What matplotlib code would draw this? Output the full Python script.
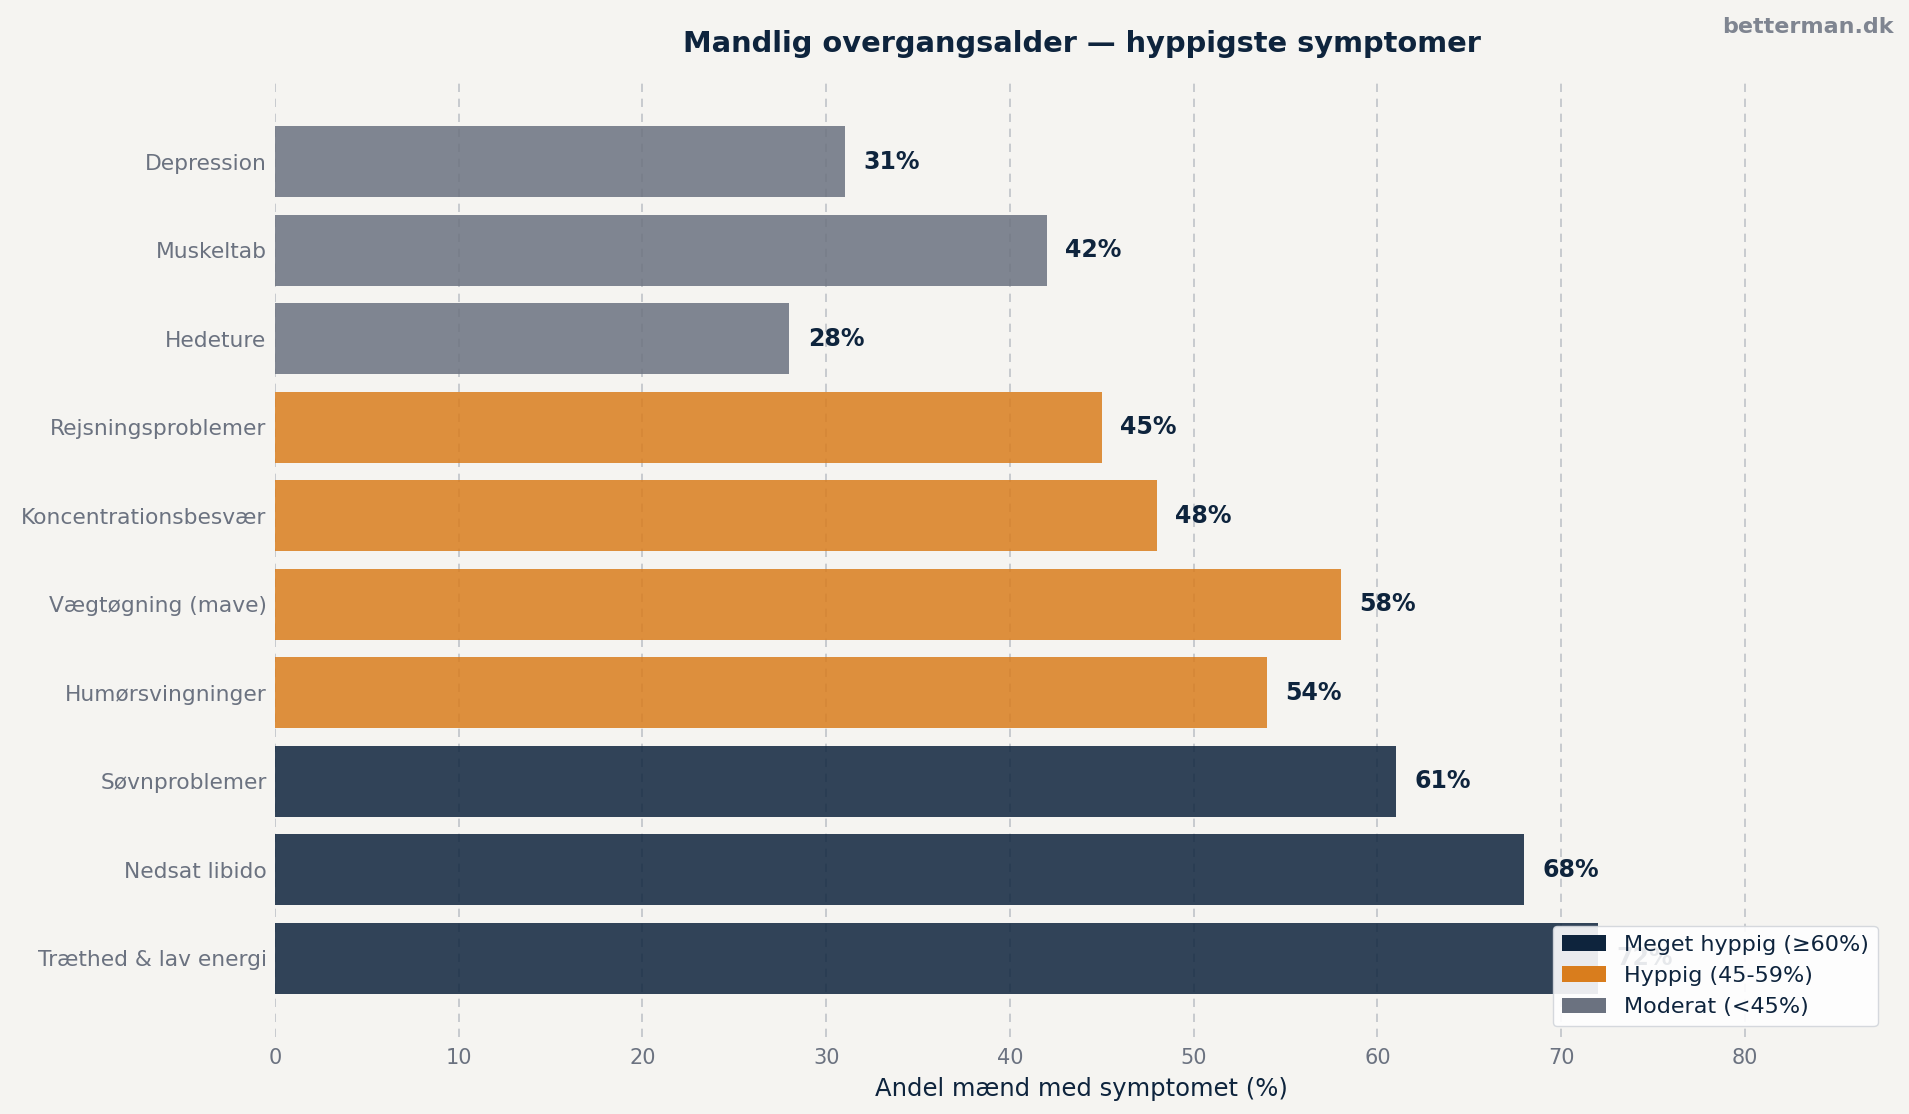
import matplotlib.pyplot as plt
from matplotlib.patches import Patch

# data (bottom to top)
symptoms = ["Træthed & lav energi", "Nedsat libido", "Søvnproblemer", "Humørsvingninger",
            "Vægtøgning (mave)", "Koncentrationsbesvær", "Rejsningsproblemer",
            "Hedeture", "Muskeltab", "Depression"]
percent = [72, 68, 61, 54, 58, 48, 45, 28, 42, 31]

NAVY = "#0e243d"
ORANGE = "#d97d1d"
GRAY = "#6b7280"
BG = "#f5f4f1"

def color_for(v):
    if v >= 60:
        return NAVY
    if v >= 45:
        return ORANGE
    return GRAY

colors = [color_for(v) for v in percent]

fig, ax = plt.subplots(figsize=(19.09, 11.14), dpi=100)
fig.patch.set_facecolor(BG)
ax.set_facecolor(BG)

ax.set_axisbelow(True)
ax.grid(axis="x", linestyle="--", color="#9ca3af", alpha=0.6, linewidth=1.2, dashes=(5, 4))
ax.grid(axis="y", visible=False)

y = list(range(len(symptoms)))
ax.barh(y, percent, color=colors, alpha=0.85, height=0.8)

for yi, v in zip(y, percent):
    ax.text(v + 1, yi, f"{v}%", va="center", ha="left", fontsize=17,
            fontweight="bold", color=NAVY)

ax.set_yticks(y)
ax.set_yticklabels(symptoms)
ax.set_xlim(0, max(percent) * 1.22)
ax.set_xticks(range(0, 90, 10))
ax.tick_params(axis="both", length=0, labelsize=15, labelcolor=GRAY, pad=8)
ax.tick_params(axis="y", labelsize=15.7, pad=6)
for s in ax.spines.values():
    s.set_visible(False)

ax.set_xlabel("Andel mænd med symptomet (%)", fontsize=17.5, color=NAVY, labelpad=6)
ax.set_title("Mandlig overgangsalder — hyppigste symptomer", fontsize=20.8,
             fontweight="bold", color=NAVY, pad=22)

handles = [Patch(facecolor=NAVY, label="Meget hyppig (≥60%)"),
           Patch(facecolor=ORANGE, label="Hyppig (45-59%)"),
           Patch(facecolor=GRAY, label="Moderat (<45%)")]
leg = ax.legend(handles=handles, loc="lower right", fontsize=16, framealpha=0.9,
                facecolor="white", edgecolor="#d1d5db")
for t in leg.get_texts():
    t.set_color(NAVY)

fig.text(0.992, 0.985, "betterman.dk", ha="right", va="top", fontsize=16,
         fontweight="bold", color=GRAY, alpha=0.85)

fig.subplots_adjust(left=0.144, right=0.9895, top=0.9255, bottom=0.069)
fig.savefig("out.png", dpi=100, facecolor=BG)
